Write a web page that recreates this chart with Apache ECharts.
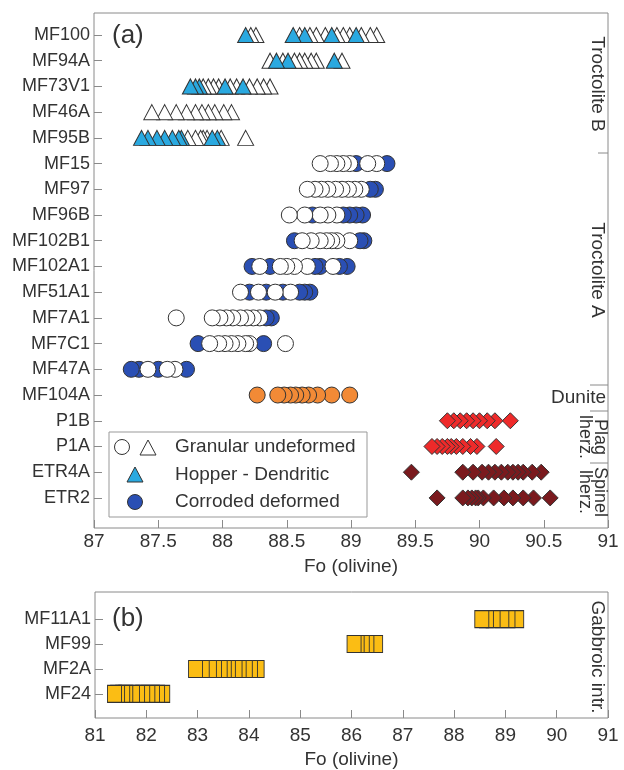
<!DOCTYPE html>
<html><head><meta charset="utf-8">
<script src="https://cdn.jsdelivr.net/npm/echarts@6/dist/echarts.min.js"></script>
<style>html,body{margin:0;padding:0;background:#fff}#c{width:624px;height:770px}</style>
</head><body><div id="c"></div>
<script>
// ---------- categories ----------
const rowsA = ['MF100','MF94A','MF73V1','MF46A','MF95B','MF15','MF97','MF96B','MF102B1','MF102A1','MF51A1','MF7A1','MF7C1','MF47A','MF104A','P1B','P1A','ETR4A','ETR2'];
const rowsB = ['MF11A1','MF99','MF2A','MF24'];
const groupLabelsA = ['Troctolite B','Troctolite A','Dunite','Plag\nlherz.','Spinel\nlherz.'];
const groupLabelB = 'Gabbroic intr.';
const legendLabels = ['Granular undeformed','Hopper - Dendritic','Corroded deformed'];
const axisTitle = 'Fo (olivine)';

// ---------- Fo values per row ----------
const granularTriangles = [
  ['MF100',[88.22,88.26,88.60,88.68,88.73,88.80,88.89,88.94,88.99,89.08,89.15,89.20]],
  ['MF94A',[88.37,88.47,88.56,88.60,88.64,88.69,88.73,88.93]],
  ['MF73V1',[87.85,87.89,87.93,87.97,88.06,88.11,88.21,88.27,88.32,88.37]],
  ['MF46A',[87.45,87.55,87.64,87.72,87.79,87.84,87.89,87.94,88.01,88.07]],
  ['MF95B',[87.73,87.79,87.83,87.85,87.88,87.99,88.18]]
];
const hopperTriangles = [
  ['MF100',[88.18,88.55,88.64,88.85,89.04]],
  ['MF94A',[88.42,88.51,88.87]],
  ['MF73V1',[87.75,87.79,87.82,88.02,88.16]],
  ['MF95B',[87.37,87.42,87.49,87.55,87.61,87.66,87.68,87.92,87.96]]
];
const granularCircles = [
  ['MF15',[88.76,88.84,88.89,88.94,88.99,89.13,89.20]],
  ['MF97',[88.66,88.72,88.77,88.82,88.88,88.93,88.98,89.03,89.08]],
  ['MF96B',[88.52,88.64,88.76,88.82,88.89]],
  ['MF102B1',[88.62,88.69,88.76,88.81,88.85,88.89,88.99]],
  ['MF102A1',[88.29,88.45,88.50,88.56,88.66,88.86]],
  ['MF51A1',[88.14,88.28,88.41,88.53]],
  ['MF7A1',[87.64,87.92,87.98,88.03,88.08,88.14,88.19,88.24,88.29]],
  ['MF7C1',[87.90,87.97,88.02,88.07,88.12,88.18,88.21,88.49]],
  ['MF47A',[87.42,87.57,87.63]]
];
const corrodedCircles = [
  ['MF15',[89.04,89.28]],
  ['MF97',[89.15,89.19]],
  ['MF96B',[88.70,88.94,88.99,89.04,89.09]],
  ['MF102B1',[88.56,89.07,89.10]],
  ['MF102A1',[88.23,88.37,88.72,88.76,88.91,88.97]],
  ['MF51A1',[88.21,88.34,88.47,88.60,88.64,88.68]],
  ['MF7A1',[88.34,88.38]],
  ['MF7C1',[87.81,88.32]],
  ['MF47A',[87.29,87.35,87.50,87.72]]
];
const duniteValues = [
  ['MF104A',[88.27,88.43,88.48,88.53,88.57,88.62,88.67,88.74,88.85,88.99]]
];
const plagLherzValues = [
  ['P1B',[89.75,89.80,89.85,89.90,89.95,90.00,90.06,90.12,90.24]],
  ['P1A',[89.63,89.67,89.71,89.75,89.78,89.82,89.87,89.93,89.98,90.13]]
];
const spinelLherzValues = [
  ['ETR4A',[89.47,89.87,89.95,90.02,90.07,90.12,90.17,90.22,90.26,90.30,90.34,90.41,90.48]],
  ['ETR2',[89.67,89.87,89.91,89.94,89.97,89.99,90.03,90.11,90.19,90.26,90.34,90.42,90.55]]
];
const gabbroicValues = [
  ['MF11A1',[88.54,88.63,88.76,88.93,89.05,89.22]],
  ['MF99',[86.05,86.11,86.21,86.30,86.47]],
  ['MF2A',[82.96,83.09,83.23,83.33,83.44,83.52,83.60,83.73,83.81,83.93,84.03,84.16]],
  ['MF24',[81.38,81.44,81.54,81.60,81.73,81.83,81.93,82.03,82.12,82.22,82.32]]
];

// ---------- helpers ----------
const FONT = '"Liberation Sans", Arial, Helvetica, sans-serif';
const TXT = '#333';
const FRAME = '#8a8a8a';
function pts(groups, rows) {
  const out = [];
  groups.forEach(([r, vals]) => vals.forEach(v => out.push([v, rows.indexOf(r)])));
  out.sort((a, b) => b[0] - a[0]); // left-most drawn last (on top)
  return out;
}
const idxA = rowsA.map((_, i) => i);
const idxB = rowsB.map((_, i) => i);
const st = (fill) => ({ color: fill, borderColor: '#333', borderWidth: 1, opacity: 1 });

function scatter(name, groups, rows, gi, symbol, size, fill, z) {
  return {
    name, type: 'scatter', xAxisIndex: gi, yAxisIndex: gi,
    symbol, symbolSize: size, itemStyle: st(fill), z,
    emphasis: { disabled: true }, animation: false,
    data: pts(groups, rows)
  };
}

const chart = echarts.init(document.getElementById('c'));
const option = {
  animation: false,
  textStyle: { fontFamily: FONT },
  grid: [
    { left: 94, right: 16, top: 13, height: 515, show: true, borderColor: FRAME, borderWidth: 1, backgroundColor: 'transparent' },
    { left: 95, right: 16, top: 592, height: 130, show: true, borderColor: FRAME, borderWidth: 1, backgroundColor: 'transparent' }
  ],
  xAxis: [
    { gridIndex: 0, type: 'value', min: 87, max: 91, interval: 0.5, position: 'bottom',
      axisLine: { show: false, onZero: false }, splitLine: { show: false },
      axisTick: { inside: true, length: 8, lineStyle: { color: FRAME } },
      axisLabel: { fontSize: 19, color: TXT, margin: 4, fontFamily: FONT, formatter: v => String(v) },
      name: axisTitle, nameLocation: 'middle', nameGap: 29,
      nameTextStyle: { fontSize: 19, color: TXT, fontFamily: FONT } },
    { gridIndex: 1, type: 'value', min: 81, max: 91, interval: 1, position: 'bottom',
      axisLine: { show: false, onZero: false }, splitLine: { show: false },
      axisTick: { inside: true, length: 8, lineStyle: { color: FRAME } },
      axisLabel: { fontSize: 19, color: TXT, margin: 8, fontFamily: FONT },
      name: axisTitle, nameLocation: 'middle', nameGap: 32,
      nameTextStyle: { fontSize: 19, color: TXT, fontFamily: FONT } }
  ],
  yAxis: [
    { gridIndex: 0, type: 'value', inverse: true, min: -0.855, max: 19.17, position: 'left',
      axisLine: { show: false, onZero: false }, splitLine: { show: false },
      axisTick: { inside: true, length: 8, lineStyle: { color: FRAME }, customValues: idxA },
      axisLabel: { customValues: idxA, formatter: v => rowsA[Math.round(v)] || '', fontSize: 18, color: TXT, margin: 4, fontFamily: FONT } },
    { gridIndex: 1, type: 'value', inverse: true, min: -1.09, max: 3.97, position: 'left',
      axisLine: { show: false, onZero: false }, splitLine: { show: false },
      axisTick: { inside: true, length: 8, lineStyle: { color: FRAME }, customValues: idxB },
      axisLabel: { customValues: idxB, formatter: v => rowsB[Math.round(v)] || '', fontSize: 18, color: TXT, margin: 4, fontFamily: FONT } }
  ],
  series: [
    scatter('Granular undeformed (triangles)', granularTriangles, rowsA, 0, 'triangle', [16, 15], '#ffffff', 2),
    scatter('Hopper - Dendritic', hopperTriangles, rowsA, 0, 'triangle', [16, 15], '#2aa9e0', 3),
    scatter('Corroded deformed', corrodedCircles, rowsA, 0, 'circle', 16, '#2a4fb4', 2),
    scatter('Granular undeformed (circles)', granularCircles, rowsA, 0, 'circle', 16, '#ffffff', 3),
    scatter('Dunite', duniteValues, rowsA, 0, 'circle', 16, '#f28a36', 2),
    scatter('Plag lherz.', plagLherzValues, rowsA, 0, 'diamond', [16, 16], '#ee2a2a', 2),
    scatter('Spinel lherz.', spinelLherzValues, rowsA, 0, 'diamond', [16, 16], '#7a1a1e', 2),
    scatter('Gabbroic intr.', gabbroicValues, rowsB, 1, 'rect', [14, 17], '#fbbd14', 2)
  ],
  graphic: [
    // panel letters
    { type: 'text', x: 112, y: 36, style: { text: '(a)', font: '26px ' + FONT, fill: TXT, verticalAlign: 'middle' } },
    { type: 'text', x: 112, y: 619, style: { text: '(b)', font: '26px ' + FONT, fill: TXT, verticalAlign: 'middle' } },
    // right-side group labels
    { type: 'text', x: 597, y: 84, rotation: -Math.PI / 2, style: { text: groupLabelsA[0], font: '19px ' + FONT, fill: TXT, align: 'center', verticalAlign: 'middle' } },
    { type: 'text', x: 597, y: 270, rotation: -Math.PI / 2, style: { text: groupLabelsA[1], font: '19px ' + FONT, fill: TXT, align: 'center', verticalAlign: 'middle' } },
    { type: 'text', x: 606, y: 398, style: { text: groupLabelsA[2], font: '19px ' + FONT, fill: TXT, align: 'right', verticalAlign: 'middle' } },
    { type: 'text', x: 592, y: 437, rotation: -Math.PI / 2, style: { text: groupLabelsA[3], font: '18px ' + FONT, lineHeight: 15, fill: TXT, align: 'center', verticalAlign: 'middle' } },
    { type: 'text', x: 592, y: 492, rotation: -Math.PI / 2, style: { text: groupLabelsA[4], font: '18px ' + FONT, lineHeight: 15, fill: TXT, align: 'center', verticalAlign: 'middle' } },
    { type: 'text', x: 597, y: 657, rotation: -Math.PI / 2, style: { text: groupLabelB, font: '19px ' + FONT, fill: TXT, align: 'center', verticalAlign: 'middle' } },
    // separators
    { type: 'line', shape: { x1: 598, y1: 153, x2: 608, y2: 153 }, style: { stroke: FRAME, lineWidth: 1 } },
    { type: 'line', shape: { x1: 590, y1: 385, x2: 608, y2: 385 }, style: { stroke: FRAME, lineWidth: 1 } },
    { type: 'line', shape: { x1: 590, y1: 411, x2: 608, y2: 411 }, style: { stroke: FRAME, lineWidth: 1 } },
    { type: 'line', shape: { x1: 590, y1: 463, x2: 608, y2: 463 }, style: { stroke: FRAME, lineWidth: 1 } },
    // legend box
    { type: 'rect', z: 10, shape: { x: 109, y: 432, width: 258, height: 85 }, style: { fill: '#fff', stroke: '#999', lineWidth: 1 } },
    { type: 'circle', z: 11, shape: { cx: 122, cy: 447, r: 7.5 }, style: { fill: '#fff', stroke: '#333', lineWidth: 1 } },
    { type: 'polygon', z: 11, shape: { points: [[148, 440], [156, 455], [140, 455]] }, style: { fill: '#fff', stroke: '#333', lineWidth: 1 } },
    { type: 'polygon', z: 11, shape: { points: [[135, 467], [143, 482], [127, 482]] }, style: { fill: '#2aa9e0', stroke: '#333', lineWidth: 1 } },
    { type: 'circle', z: 11, shape: { cx: 135, cy: 502, r: 7.5 }, style: { fill: '#2a4fb4', stroke: '#333', lineWidth: 1 } },
    { type: 'text', z: 11, x: 175, y: 447, style: { text: legendLabels[0], font: '19px ' + FONT, fill: TXT, verticalAlign: 'middle' } },
    { type: 'text', z: 11, x: 175, y: 475, style: { text: legendLabels[1], font: '19px ' + FONT, fill: TXT, verticalAlign: 'middle' } },
    { type: 'text', z: 11, x: 175, y: 502, style: { text: legendLabels[2], font: '19px ' + FONT, fill: TXT, verticalAlign: 'middle' } }
  ]
};
chart.setOption(option);
</script>
</body></html>
